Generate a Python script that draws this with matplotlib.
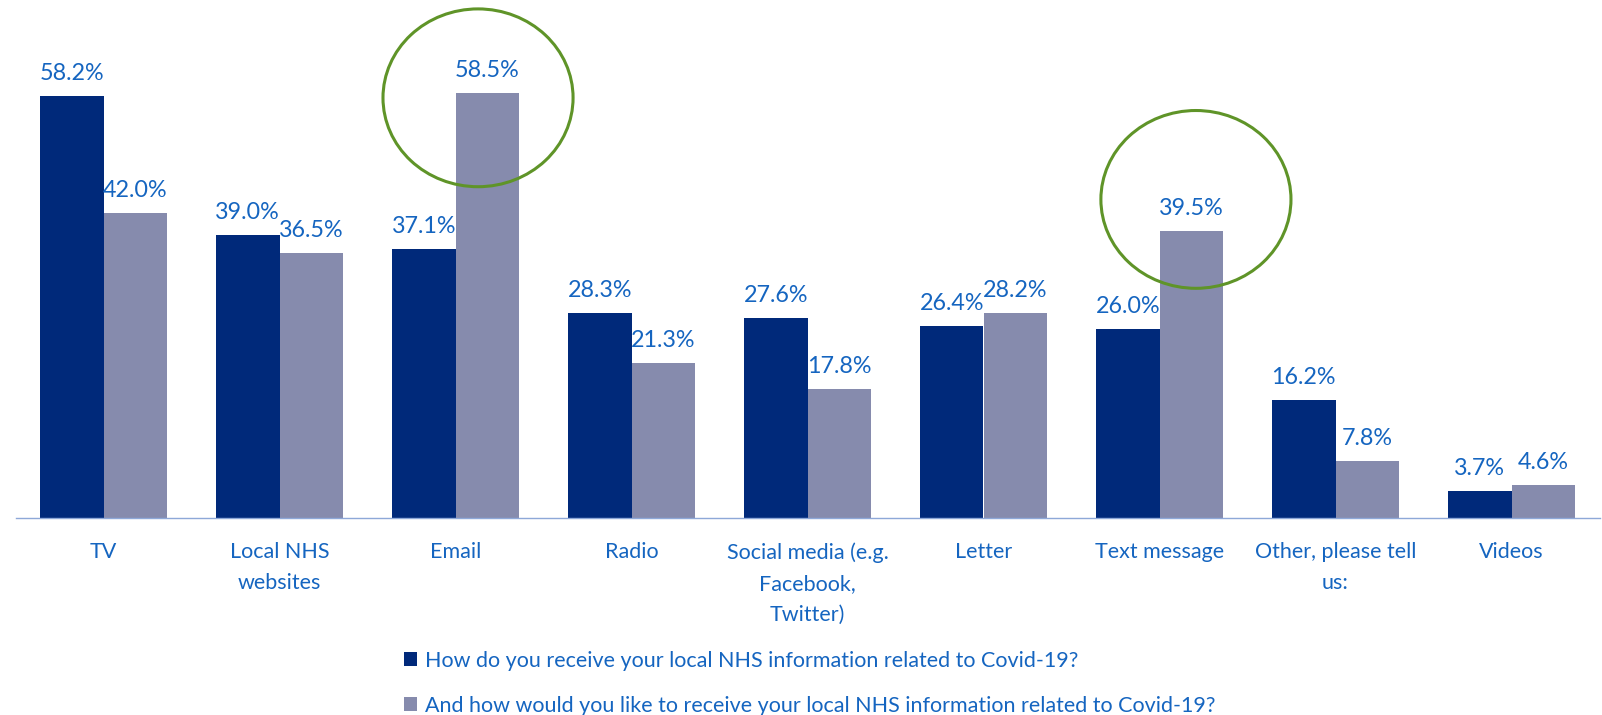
import matplotlib
matplotlib.use("Agg")
import matplotlib.pyplot as plt
from matplotlib.patches import Ellipse
import numpy as np

plt.rcParams["font.family"] = ["Lato", "DejaVu Sans"]

categories = [
    "TV",
    "Local NHS\nwebsites",
    "Email",
    "Radio",
    "Social media (e.g.\nFacebook,\nTwitter)",
    "Letter",
    "Text message",
    "Other, please tell\nus:",
    "Videos",
]
receive_pct = [58.2, 39.0, 37.1, 28.3, 27.6, 26.4, 26.0, 16.2, 3.7]
prefer_pct = [42.0, 36.5, 58.5, 21.3, 17.8, 28.2, 39.5, 7.8, 4.6]
series_labels = [
    "How do you receive your local NHS information related to Covid-19?",
    "And how would you like to receive your local NHS information related to Covid-19?",
]

DARK = "#00297A"
LIGHT = "#868BAD"
TEXT_BLUE = "#1565C0"
AXIS_BLUE = "#8EA8D8"
GREEN = "#5F9428"

W, H = 1602, 715
fig = plt.figure(figsize=(W / 100, H / 100), dpi=100)
ax = fig.add_axes([15.5 / W, (H - 518) / H, 1584 / W, 508 / H])

x = np.arange(len(categories))
bw = 0.361
b1 = ax.bar(x - bw / 2, receive_pct, bw, color=DARK, label=series_labels[0])
b2 = ax.bar(x + bw / 2, prefer_pct, bw, color=LIGHT, label=series_labels[1])

for bars, vals in ((b1, receive_pct), (b2, prefer_pct)):
    for rect, v in zip(bars, vals):
        ax.annotate(f"{v:.1f}%",
                    xy=(rect.get_x() + rect.get_width() / 2, v),
                    xytext=(0, 11.5), textcoords="offset points",
                    ha="center", va="baseline", fontsize=16.8, color=TEXT_BLUE)

# category labels under each group
for i, name in enumerate(categories):
    ax.annotate(name, xy=(i, 0), xytext=(0, -17.5), textcoords="offset points",
                ha="center", va="top", fontsize=15.5, color=TEXT_BLUE,
                linespacing=1.68, annotation_clip=False)

# highlight rings around the Email and Text message preferences
for cx, cy in ((2.128, 57.9), (6.207, 43.9)):
    ax.add_patch(Ellipse((cx, cy), 1.08, 24.5, fill=False, edgecolor=GREEN,
                         linewidth=2.2, clip_on=False, zorder=5))

ax.set_xlim(-0.5, len(categories) - 0.5)
ax.set_ylim(0, 70)
ax.set_xticks([])
ax.set_yticks([])
for side in ("top", "right", "left"):
    ax.spines[side].set_visible(False)
ax.spines["bottom"].set_color(AXIS_BLUE)
ax.spines["bottom"].set_linewidth(1.0)

leg = ax.legend(handles=[b1, b2], loc="upper left",
                bbox_to_anchor=(404 / W, 1 - 651 / H), bbox_transform=fig.transFigure,
                frameon=False, fontsize=15.5, labelcolor=TEXT_BLUE,
                handlelength=0.62, handleheight=0.62, handletextpad=0.35,
                labelspacing=1.15, borderpad=0, borderaxespad=0)

fig.savefig("out.png", dpi=100)
